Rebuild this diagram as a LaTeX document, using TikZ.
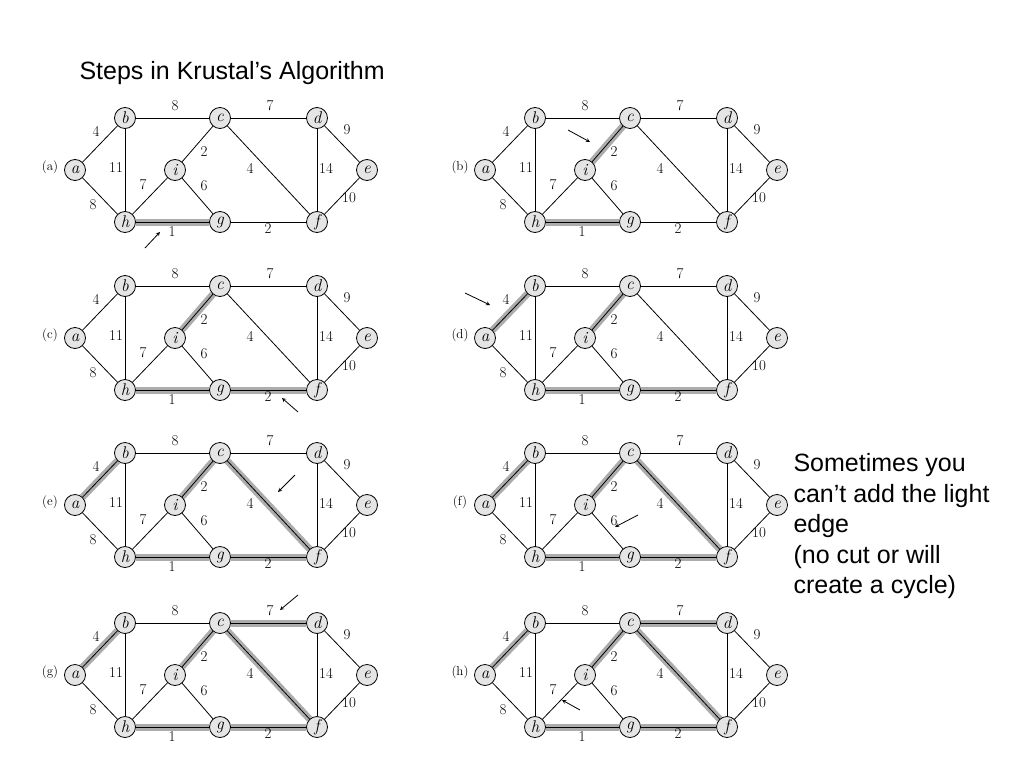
\documentclass[tikz,border=0pt]{standalone}
\usepackage{fontspec}
\setsansfont{Liberation Sans}
\usetikzlibrary{backgrounds}

\tikzset{
  vtx/.style={circle, draw, thick, fill=gray!20, minimum size=21pt, inner sep=0pt, font=\itshape\fontsize{17}{17}\selectfont},
  edge/.style={thick},
  tree/.style={line width=7pt, gray!65},
  wt/.style={font=\fontsize{15}{15}\selectfont},
  tag/.style={font=\fontsize{13}{13}\selectfont},
  pointer/.style={->, thick, >=stealth}
}

% one panel: #1 shift, #2 prefix, #3 tag, #4 tree edges, #5 arrow start, #6 arrow end
\newcommand{\krgraph}[6]{%
  \begin{scope}[shift={#1}]
    \node[vtx] (#2a) at (0,0) {a};
    \node[vtx] (#2b) at (50,-52) {b};
    \node[vtx] (#2c) at (145,-52) {c};
    \node[vtx] (#2d) at (242,-52) {d};
    \node[vtx] (#2e) at (292,0) {e};
    \node[vtx] (#2f) at (242,52) {f};
    \node[vtx] (#2g) at (145,52) {g};
    \node[vtx] (#2h) at (50,52) {h};
    \node[vtx] (#2i) at (100,0) {i};
    \begin{scope}[on background layer]
      \foreach \u/\v in {#4} \draw[tree] (#2\u) -- (#2\v);
    \end{scope}
    \foreach \u/\v in {a/b,b/c,c/d,d/e,e/f,f/g,g/h,h/a,b/h,i/c,i/h,i/g,c/f,d/f}
      \draw[edge] (#2\u) -- (#2\v);
    \node[wt] at (21,-39) {4};
    \node[wt] at (100,-64) {8};
    \node[wt] at (195,-64) {7};
    \node[wt] at (272,-40) {9};
    \node[wt] at (41,-2) {11};
    \node[wt] at (129,-18) {2};
    \node[wt] at (175,-2) {4};
    \node[wt] at (251,-2) {14};
    \node[wt] at (68,15) {7};
    \node[wt] at (129,16) {6};
    \node[wt] at (274,28) {10};
    \node[wt] at (18,35) {8};
    \node[wt] at (97,62) {1};
    \node[wt] at (193,59) {2};
    \node[tag] (#2tag) at (-25,-3) {(#3)};
    \draw[pointer] #5 -- #6;
  \end{scope}
}

\begin{document}
\begin{tikzpicture}[x=1pt, y=-1pt]
  \useasboundingbox (0,0) rectangle (1024,768);
  \node[anchor=west, font=\sffamily\fontsize{25}{25}\selectfont] (title) at (76,73) {Steps in Krustal’s Algorithm};
  \krgraph{(75,170)}{A}{a}{h/g}{(70,78)}{(85,62)}
  \krgraph{(485,170)}{B}{b}{h/g,i/c}{(83,-40)}{(105,-28)}
  \krgraph{(75,338)}{C}{c}{h/g,i/c,g/f}{(223,74)}{(207,60)}
  \krgraph{(485,338)}{D}{d}{h/g,i/c,g/f,a/b}{(-20,-45)}{(5,-33)}
  \krgraph{(75,505)}{E}{e}{h/g,i/c,g/f,a/b,c/f}{(220,-30)}{(203,-13)}
  \krgraph{(485,505)}{F}{f}{h/g,i/c,g/f,a/b,c/f}{(153,10)}{(130,22)}
  \krgraph{(75,675)}{G}{g}{h/g,i/c,g/f,a/b,c/f,c/d}{(223,-80)}{(205,-65)}
  \krgraph{(485,675)}{H}{h}{h/g,i/c,g/f,a/b,c/f,c/d}{(95,35)}{(77,25)}
  \node[anchor=north west, align=left, font=\sffamily\fontsize{25}{30.5}\selectfont] (note) at (790,450)
    {Sometimes you\\can’t add the light\\edge\\(no cut or will\\create a cycle)};
\end{tikzpicture}
\end{document}
